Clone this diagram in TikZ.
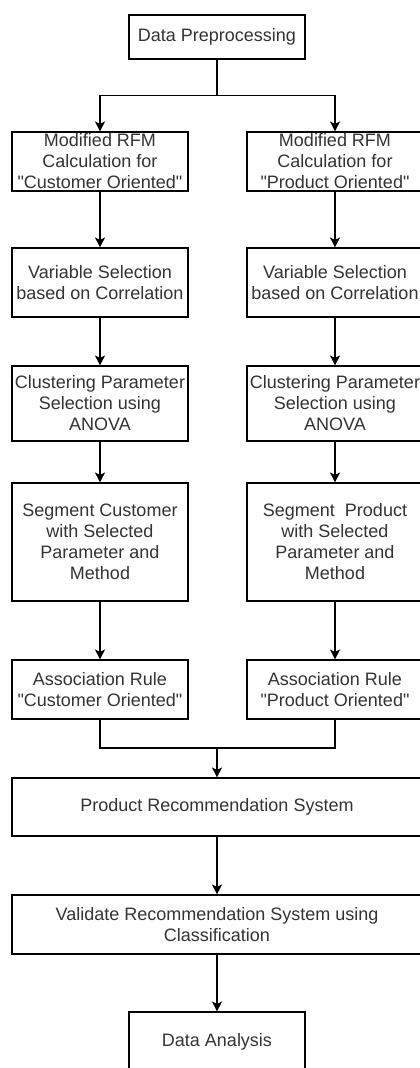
\documentclass[tikz,border=0pt]{standalone}
\usepackage{fontspec}
\setmainfont{Liberation Sans}
\usetikzlibrary{arrows.meta}

\tikzset{
	procedure/.style = {rectangle, draw, line width=1.1pt, text=black!80, align=center,
		inner sep=0pt, minimum width=176pt, font=\fontsize{18}{21}\selectfont},
	widebox/.style = {procedure, minimum width=410pt},
	line/.style = {draw, line width=1.1pt, -{Stealth[length=10pt, width=10pt, inset=2.5pt]}},
	plain/.style = {draw, line width=1.1pt}
}
\newcommand{\dq}{\textquotedbl}

\begin{document}
\begin{tikzpicture}[x=1pt, y=1pt]
		\useasboundingbox (0,0) rectangle (420,-1068);
		\clip (0,0) rectangle (420,-1068);
		
		\node [procedure, minimum height=44pt] (pre) at (217,-37) {Data Preprocessing};
		
		%customer oriented
		\node [procedure, minimum height=59pt] (c1) at (100,-161.5) {Modified RFM\\Calculation for\\\dq Customer Oriented\dq};
		\node [procedure, below of = c1, minimum height=69pt, node distance = 121pt] (c2) {Variable Selection\\based on Correlation};
		\node [procedure, below of = c2, minimum height=75pt, node distance = 121pt] (c3) {Clustering Parameter\\Selection using\\ANOVA};
		\node [procedure, below of = c3, minimum height=118pt, node distance = 138.5pt] (c4) {Segment Customer\\with Selected\\Parameter and\\Method};
		\node [procedure, below of = c4, minimum height=59pt, node distance = 147.5pt] (c5) {Association Rule\\\dq Customer Oriented\dq};
		
		%product oriented
		\node [procedure, right of = c1, minimum height=59pt, node distance = 235pt] (p1) {Modified RFM\\Calculation for\\\dq Product Oriented\dq};
		\node [procedure, right of = c2, minimum height=69pt, node distance = 235pt] (p2) {Variable Selection\\based on Correlation};
		\node [procedure, right of = c3, minimum height=75pt, node distance = 235pt] (p3) {Clustering Parameter\\Selection using\\ANOVA};
		\node [procedure, right of = c4, minimum height=118pt, node distance = 235pt] (p4) {Segment~ Product\\with Selected\\Parameter and\\Method};
		\node [procedure, right of = c5, minimum height=59pt, node distance = 235pt] (p5) {Association Rule\\\dq Product Oriented\dq};
		
		%merged part
		\node [widebox, below of = pre, minimum height=58pt, node distance = 770pt] (rec) {Product Recommendation System};
		\node [widebox, below of = rec, minimum height=59pt, node distance = 117.5pt] (val) {Validate Recommendation System using\\Classification};
		\node [procedure, below of = val, minimum height=60pt, node distance = 117.5pt] (ana) {Data Analysis};
		
		\coordinate (join) at (217,-748);
		
		\path [line] (pre.south) -- ++(0,-36) -| (c1.north);
		\path [line] (pre.south) -- ++(0,-36) -| (p1.north);
		
		\path [line] (c1) -- (c2);
		\path [line] (c2) -- (c3);
		\path [line] (c3) -- (c4);
		\path [line] (c4) -- (c5);
		
		\path [line] (p1) -- (p2);
		\path [line] (p2) -- (p3);
		\path [line] (p3) -- (p4);
		\path [line] (p4) -- (p5);
		
		\path [plain] (c5.south) |- (join);
		\path [plain] (p5.south) |- (join);
		\path [line] (join) -- (rec.north);
		\path [line] (rec) -- (val);
		\path [line] (val) -- (ana);
		
	\end{tikzpicture}
\end{document}
